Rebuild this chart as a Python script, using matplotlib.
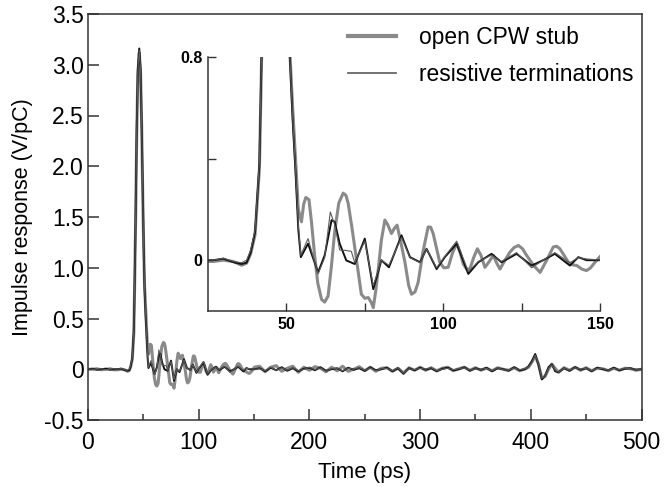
import matplotlib.pyplot as plt
import numpy as np

plt.rcParams['font.family'] = ['Liberation Sans', 'DejaVu Sans']

# ---- values (time in ps, response in V/pC) ----
head_t = [0, 4, 8, 12, 16, 20, 23, 26.7, 29.9, 33.1, 35.7, 37.3, 38.6]
head_open = [0.0, 0.0, 0.005, -0.005, 0.0, 0.005, -0.005, -0.005, 0.0, -0.005, -0.02, -0.012, 0.025]
head_res = [0.005, 0.0, 0.0, 0.005, -0.005, 0.0, 0.005, 0.0, 0.008, -0.005, -0.01, 0.0, 0.04]
head_blk = [0.0, 0.005, -0.005, 0.0, 0.005, -0.005, 0.0, 0.0, 0.006, -0.008, -0.015, -0.01, 0.03]

peak_t = [40.0, 41.4, 42.1, 43, 44, 45, 46.3, 47.5, 48.5, 49.5, 50.3, 51.1, 52.0, 52.9, 53.8]
peak_open = [0.1, 0.36, 0.8, 1.45, 2.3, 2.9, 3.12, 2.92, 2.38, 1.68, 1.2, 0.82, 0.6, 0.4, 0.2]
peak_res = [0.12, 0.39, 0.83, 1.5, 2.35, 2.93, 3.14, 2.94, 2.4, 1.7, 1.18, 0.8, 0.56, 0.36, 0.14]
peak_blk = [0.11, 0.38, 0.82, 1.5, 2.35, 2.95, 3.16, 2.95, 2.4, 1.7, 1.2, 0.8, 0.55, 0.35, 0.12]

ring_t_open = [54.8, 55.5, 56.2, 57.2, 58.0, 59.0, 60.0, 61.2, 62.2, 63.3,
               64.3, 65.4, 66.7, 68.1, 69.0, 69.7, 71.0, 72.3, 73.9, 75.0,
               76.1, 77.0, 77.7, 78.5, 79.3, 80.3, 81.4, 82.3, 83.5, 84.4,
               85.3, 86.5, 87.8, 89.0, 89.9, 91.0, 92.0, 93.5, 95.2, 96.0,
               96.8, 98.0, 98.9, 100.2, 101.6, 103.0, 104.3, 105.4, 106.4, 107.5,
               108.5, 109.7, 110.9, 112.0, 113.3, 114.7, 116.0, 117.0, 118.1, 119.7,
               121.3, 122.6, 124.0, 125.3, 126.6, 128.8, 130.9, 133.0, 135.1, 136.2,
               137.2, 138.5, 139.9, 141.2, 142.6, 144.2, 145.7, 147.0, 148.4, 150.5]
ring_open = [0.151, 0.22, 0.247, 0.238, 0.15, 0.019, -0.09, -0.154, -0.165, -0.141,
             -0.03, 0.112, 0.225, 0.264, 0.255, 0.224, 0.12, 0.005, -0.134, -0.15,
             -0.147, -0.165, -0.187, -0.12, -0.035, 0.08, 0.158, 0.14, 0.105, 0.125,
             0.138, 0.07, -0.008, -0.1, -0.134, -0.125, -0.088, 0.03, 0.131, 0.13,
             0.105, 0.04, -0.008, -0.03, -0.028, 0.03, 0.065, 0.03, -0.015, -0.035,
             -0.035, 0.01, 0.045, 0.02, -0.028, -0.005, 0.019, -0.01, -0.035, 0.0,
             0.032, 0.05, 0.058, 0.045, 0.019, -0.02, -0.048, 0.0, 0.052, 0.055,
             0.045, 0.02, -0.008, -0.018, -0.021, -0.035, -0.041, -0.03, -0.008, 0.021]

ring_t_res = [54.6, 56.9, 60.1, 62.2, 64.0, 65.4, 67.0, 68.6, 70.7, 71.8, 75.0, 77.7, 80.3,
              82.7, 86.7, 89.4, 92.6, 94.7, 97.9, 100.5, 104.3, 108.0, 111.2, 115.4, 118.6,
              123.4, 128.2, 131.9, 135.6, 140.4, 143.1, 145.7, 150.5]
ring_res = [0.02, 0.085, -0.054, 0.01, 0.19, 0.14, 0.04, 0.039, 0.035, -0.01, 0.075, -0.10,
            0.0, -0.02, 0.09, 0.01, -0.01, 0.045, -0.03, 0.015, 0.075, -0.045, -0.005, 0.02,
            -0.005, 0.03, -0.03, 0.0, 0.03, -0.01, 0.01, 0.005, 0.0]

ring_t_blk = [54.6, 56.9, 60.1, 62.2, 64.4, 65.4, 67.0, 69.1, 71.8, 75.0, 77.7, 80.3, 82.7,
              86.7, 89.4, 92.6, 94.7, 97.9, 100.5, 104.3, 108.0, 111.2, 115.4, 118.6, 123.4,
              128.2, 131.9, 135.6, 140.4, 143.1, 145.7, 150.5]
ring_blk = [0.012, 0.065, -0.048, 0.019, 0.158, 0.151, 0.065, -0.001, -0.015, 0.085, -0.114,
            0.0, -0.028, 0.098, 0.012, -0.008, 0.045, -0.035, 0.012, 0.065, -0.054, -0.008,
            0.025, -0.008, 0.025, -0.021, 0.0, 0.025, -0.021, 0.012, 0.0, 0.0]

tail_t = [155, 160, 165, 170, 175, 180, 185, 190, 195, 200, 205, 210, 215, 220, 225, 230,
          235, 240, 245, 250, 255, 260, 265, 270, 275, 280, 285, 290, 295, 300, 305, 310,
          315, 320, 325, 330, 335, 340, 345, 350, 355, 360, 365, 370, 375, 380, 385, 390,
          395, 398, 401, 404, 407, 410, 413, 416, 419, 422, 425, 430, 435, 440, 445, 450,
          455, 460, 465, 470, 475, 480, 485, 490, 495, 500]
tail_open = [0.03, -0.025, 0.02, 0.035, -0.02, 0.01, 0.03, -0.03, 0.02, -0.01, 0.025, 0.01,
             -0.025, 0.02, -0.015, 0.03, -0.02, 0.0, 0.025, -0.015, 0.02, -0.02, 0.01, 0.015,
             -0.02, 0.01, -0.035, 0.015, -0.01, 0.02, -0.01, 0.015, -0.015, 0.01, 0.02, -0.015,
             0.005, 0.02, -0.01, 0.015, -0.01, 0.01, -0.015, 0.015, 0.0, -0.01, 0.015, -0.015,
             0.005,
             0.02, 0.07, 0.13, 0.05, -0.09, -0.07, 0.0, 0.05, 0.01, -0.03,
             0.015, -0.01, 0.02, -0.01, 0.015, -0.015, 0.01, 0.005, -0.015, 0.01, -0.01, 0.01,
             0.005, -0.01, 0.0]
tail_res = [0.005, -0.015, 0.02, -0.01, 0.015, -0.01, 0.015, -0.015, 0.0, 0.02, -0.005, 0.015,
            -0.02, 0.005, 0.01, -0.015, 0.01, 0.0, 0.015, -0.01, 0.015, -0.015, 0.005, 0.01,
            -0.015, 0.015, -0.04, 0.005, -0.005, 0.01, 0.0, 0.015, -0.015, 0.0, 0.01, -0.005,
            0.005, 0.015, -0.01, 0.005, 0.0, 0.01, -0.015, 0.015, -0.005, -0.01, 0.015, -0.005,
            0.005,
            0.025, 0.07, 0.14, 0.05, -0.09, -0.06, 0.01, 0.045, -0.01, -0.03,
            0.01, -0.01, 0.015, 0.0, 0.01, -0.015, 0.01, 0.005, -0.01, 0.01, -0.005, 0.01,
            0.005, 0.0, 0.0]
tail_blk = [0.01, -0.02, 0.015, -0.01, 0.02, -0.015, 0.01, -0.02, 0.005, 0.015, -0.01, 0.02,
            -0.015, 0.0, 0.01, -0.02, 0.015, -0.005, 0.01, -0.015, 0.02, -0.01, 0.0, 0.015,
            -0.02, 0.01, -0.045, 0.01, -0.01, 0.015, -0.005, 0.01, -0.02, 0.005, 0.015, -0.01,
            0.0, 0.02, -0.015, 0.01, -0.005, 0.015, -0.02, 0.01, 0.0, -0.015, 0.02, -0.01,
            0.0,
            0.03, 0.08, 0.15, 0.04, -0.1, -0.06, 0.02, 0.05, -0.02, -0.03,
            0.01, -0.015, 0.02, -0.005, 0.01, -0.02, 0.015, 0.0, -0.01, 0.015, -0.01, 0.005,
            0.01, -0.005, 0.0]

t_open = np.concatenate([head_t, peak_t, ring_t_open, tail_t])
v_open = np.concatenate([head_open, peak_open, ring_open, tail_open])
t_res = np.concatenate([head_t, peak_t, ring_t_res, tail_t])
v_res = np.concatenate([head_res, peak_res, ring_res, tail_res])
t_blk = np.concatenate([head_t, peak_t, ring_t_blk, tail_t])
v_blk = np.concatenate([head_blk, peak_blk, ring_blk, tail_blk])

grey = '#8a8a8a'
thin = '#5a5a5a'
axcol = '#333333'


def draw(a):
    a.plot(t_open, v_open, color=grey, lw=2.2, solid_joinstyle='round',
           label='open CPW stub')
    a.plot(t_blk, v_blk, color='#111111', lw=1.4)
    a.plot(t_res, v_res, color=thin, lw=0.8, label='resistive terminations')


fig = plt.figure(figsize=(6.69, 4.87), dpi=100)
ax = fig.add_axes([88 / 669, 67 / 487, 553.5 / 669, 406 / 487])
draw(ax)

ax.set_xlim(0, 500)
ax.set_ylim(-0.5, 3.5)
ax.set_xticks([0, 100, 200, 300, 400, 500])
ax.set_xticks([50, 150, 250, 350, 450], minor=True)
ax.set_yticks(np.arange(-0.5, 3.51, 0.5))
ax.set_yticklabels(['-0.5', '0', '0.5', '1.0', '1.5', '2.0', '2.5', '3.0', '3.5'])
ax.tick_params(axis='both', which='major', direction='in', length=8, width=1.1,
               color=axcol, labelsize=16.5)
ax.tick_params(axis='x', which='minor', direction='in', length=4.5, width=1.1, color=axcol)
ax.tick_params(axis='x', which='major', pad=8)
ax.tick_params(axis='y', which='major', pad=3)
for s in ax.spines.values():
    s.set_color(axcol)
    s.set_linewidth(1.1)
ax.set_xlabel('Time (ps)', fontsize=16, labelpad=6)
ax.set_ylabel('Impulse response (V/pC)', fontsize=15.5, labelpad=8)

leg = ax.legend(loc='upper right', bbox_to_anchor=(1.022, 1.02), frameon=False,
                fontsize=16.4, handlelength=2.1, handletextpad=1.0, labelspacing=0.6)
leg.get_lines()[0].set_linewidth(3.0)
leg.get_lines()[1].set_linewidth(1.2)

# inset zoom on the ringing after the pulse
ins = fig.add_axes([208 / 669, 176 / 487, 392 / 669, 254 / 487])
draw(ins)
ins.set_xlim(25, 150)
ins.set_ylim(-0.2, 0.8)
ins.patch.set_alpha(0)
ins.spines['top'].set_visible(False)
ins.spines['right'].set_visible(False)
for s in ('left', 'bottom'):
    ins.spines[s].set_color(axcol)
    ins.spines[s].set_linewidth(1.1)
ins.set_xticks([50, 75, 100, 125, 150])
ins.set_xticklabels(['50', '', '100', '', '150'])
ins.set_yticks([0, 0.4, 0.8])
ins.set_yticklabels(['0', '', '0.8'])
ins.tick_params(direction='in', length=6, width=1.0, color=axcol, labelsize=11.5, pad=4)
for lab in ins.get_xticklabels() + ins.get_yticklabels():
    lab.set_fontweight('bold')

fig.savefig('out.png', dpi=100)
